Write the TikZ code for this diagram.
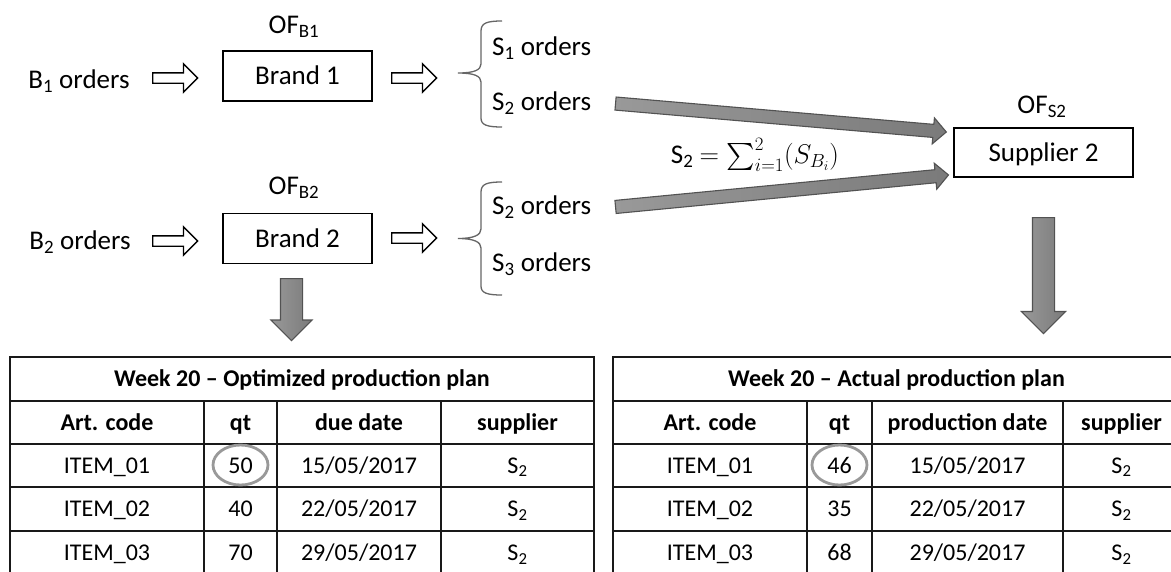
\RequirePackage{fix-cm}
\documentclass[tikz,border=0pt]{standalone}
\usepackage{fontspec}
\setmainfont{Carlito}
\usepackage{amssymb}
\usepackage{tikz}
\usetikzlibrary{shapes,arrows,positioning}

\begin{document}
\begin{tikzpicture}[x=1pt, y=-1pt]
		\tikzstyle{Label}	= [font=\fontsize{27}{32}\selectfont, text height=20pt, text depth=3pt, inner sep=0pt]
		\tikzstyle{Box}		= [Label, draw, line width=1.6pt, minimum width=149pt, minimum height=50pt]
		\tikzstyle{Hollow}	= [single arrow, draw, fill=white, line width=1.4pt, inner sep=0pt, text height=9pt, minimum height=45pt, single arrow head extend=9pt, single arrow head indent=0pt, anchor=tail]
		\tikzstyle{Block}	= [single arrow, draw=black!68, line width=1.1pt, left color=black!40, right color=black!52, inner sep=0pt, single arrow head indent=0pt, anchor=tail]
		\tikzstyle{Brace}	= [black!60, line width=1.3pt]
		\tikzstyle{Cell}	= [font=\fontsize{24}{29}\selectfont, text height=18pt, text depth=3pt, inner sep=0pt]
		\tikzstyle{Head}	= [Cell, font=\fontsize{24}{29}\selectfont\bfseries]
		\tikzstyle{Grid}	= [line width=1.6pt, black!90]
		\tikzstyle{Ring}	= [ellipse, draw=black!40, line width=2.8pt, minimum width=55pt, minimum height=40pt]

		\fill[white] (0, 0) rectangle (1171, 571);
		\useasboundingbox (0, 0) rectangle (1171, 571);

		% brand 1 row
		\node (b1) at (79, 80) [Label] {B\textsubscript{1} orders};
		\node (ha1) at (152, 78) [Hollow] {};
		\node (brand1) at (297.5, 76) [Box] {Brand 1};
		\node (of1) at (294, 25) [Label] {OF\textsubscript{B1}};
		\node (ha2) at (391, 78) [Hollow] {};
		\draw [Brace] (502, 21) .. controls (487, 21) and (481, 23) .. (481, 31) -- (481, 64) .. controls (481, 70) and (474, 73) .. (458, 73) .. controls (474, 73) and (481, 76) .. (481, 82) -- (481, 118) .. controls (481, 125) and (487, 127) .. (502, 127);
		\node (s1a) at (492, 47) [Label, anchor=west] {S\textsubscript{1} orders};
		\node (s2a) at (492, 102) [Label, anchor=west] {S\textsubscript{2} orders};

		% brand 2 row
		\node (b2) at (80, 241) [Label] {B\textsubscript{2} orders};
		\node (ha3) at (152, 241) [Hollow] {};
		\node (brand2) at (297.5, 238.5) [Box] {Brand 2};
		\node (of2) at (294, 186) [Label] {OF\textsubscript{B2}};
		\node (ha4) at (391, 238) [Hollow] {};
		\draw [Brace] (502, 182) .. controls (487, 182) and (481, 184) .. (481, 192) -- (481, 229) .. controls (481, 235) and (474, 238.5) .. (458, 238.5) .. controls (474, 238.5) and (481, 242) .. (481, 248) -- (481, 286) .. controls (481, 293) and (487, 295) .. (502, 295);
		\node (s2b) at (492, 206) [Label, anchor=west] {S\textsubscript{2} orders};
		\node (s3b) at (492, 263) [Label, anchor=west] {S\textsubscript{3} orders};

		% supplier
		\node (sup) at (1043.5, 152.5) [Box, minimum width=179pt, minimum height=49pt] {Supplier 2};
		\node (ofs) at (1042, 105) [Label] {OF\textsubscript{S2}};
		\node (sum) at (755, 155) [Label] {S\textsubscript{2} $= \sum_{i=1}^{2}\bigl(S_{B_i}\bigr)$};

		\coordinate (g1a) at (615, 103.5);
		\coordinate (g1b) at (946, 132);
		\coordinate (g2a) at (615, 207);
		\coordinate (g2b) at (948, 175);
		\path (g1a) -- (g1b) node [Block, sloped, pos=0, text height=12pt, single arrow head extend=6.5pt, minimum height=332pt] (ga1) {};
		\path (g2a) -- (g2b) node [Block, sloped, pos=0, text height=12pt, single arrow head extend=6.5pt, minimum height=334.5pt] (ga2) {};

		\node (da1) at (291.5, 278) [Block, rotate=-90, text height=21pt, single arrow head extend=9.5pt, minimum height=62pt] {};
		\node (da2) at (1043.5, 217) [Block, rotate=-90, text height=21pt, single arrow head extend=11pt, minimum height=116pt] {};

		% optimized plan
		\draw [Grid] (10, 357) rectangle (594, 575);
		\draw [Grid] (10, 401) -- (594, 401);
		\draw [Grid] (10, 444) -- (594, 444);
		\draw [Grid] (10, 487) -- (594, 487);
		\draw [Grid] (10, 531) -- (594, 531);
		\draw [Grid] (204, 401) -- (204, 575);
		\draw [Grid] (277, 401) -- (277, 575);
		\draw [Grid] (441, 401) -- (441, 575);

		\node (lt) at (302, 379) [Head] {Week 20 -- Optimized production plan};
		\node (lh1) at (107, 422.5) [Head] {Art. code};
		\node (lh2) at (240.5, 422.5) [Head] {qt};
		\node (lh3) at (359, 422.5) [Head] {due date};
		\node (lh4) at (517.5, 422.5) [Head] {supplier};
		\node (l11) at (107, 465.5) [Cell] {ITEM\_01};
		\node (l12) at (240.5, 465.5) [Cell] {50};
		\node (l13) at (359, 465.5) [Cell] {15/05/2017};
		\node (l14) at (517.5, 465.5) [Cell] {S\textsubscript{2}};
		\node (l21) at (107, 509) [Cell] {ITEM\_02};
		\node (l22) at (240.5, 509) [Cell] {40};
		\node (l23) at (359, 509) [Cell] {22/05/2017};
		\node (l24) at (517.5, 509) [Cell] {S\textsubscript{2}};
		\node (l31) at (107, 553) [Cell] {ITEM\_03};
		\node (l32) at (240.5, 553) [Cell] {70};
		\node (l33) at (359, 553) [Cell] {29/05/2017};
		\node (l34) at (517.5, 553) [Cell] {S\textsubscript{2}};
		\node (ring1) at (240.5, 465) [Ring] {};

		% actual plan
		\draw [Grid] (613, 357) rectangle (1180, 575);
		\draw [Grid] (613, 401) -- (1180, 401);
		\draw [Grid] (613, 444) -- (1180, 444);
		\draw [Grid] (613, 487) -- (1180, 487);
		\draw [Grid] (613, 531) -- (1180, 531);
		\draw [Grid] (807, 401) -- (807, 575);
		\draw [Grid] (872, 401) -- (872, 575);
		\draw [Grid] (1063, 401) -- (1063, 575);

		\node (rt) at (896.5, 379) [Head] {Week 20 -- Actual production plan};
		\node (rh1) at (710, 422.5) [Head] {Art. code};
		\node (rh2) at (839.5, 422.5) [Head] {qt};
		\node (rh3) at (967.5, 422.5) [Head] {production date};
		\node (rh4) at (1121.5, 422.5) [Head] {supplier};
		\node (r11) at (710, 465.5) [Cell] {ITEM\_01};
		\node (r12) at (839.5, 465.5) [Cell] {46};
		\node (r13) at (967.5, 465.5) [Cell] {15/05/2017};
		\node (r14) at (1121.5, 465.5) [Cell] {S\textsubscript{2}};
		\node (r21) at (710, 509) [Cell] {ITEM\_02};
		\node (r22) at (839.5, 509) [Cell] {35};
		\node (r23) at (967.5, 509) [Cell] {22/05/2017};
		\node (r24) at (1121.5, 509) [Cell] {S\textsubscript{2}};
		\node (r31) at (710, 553) [Cell] {ITEM\_03};
		\node (r32) at (839.5, 553) [Cell] {68};
		\node (r33) at (967.5, 553) [Cell] {29/05/2017};
		\node (r34) at (1121.5, 553) [Cell] {S\textsubscript{2}};
		\node (ring2) at (839.5, 465) [Ring] {};
	\end{tikzpicture}
\end{document}
